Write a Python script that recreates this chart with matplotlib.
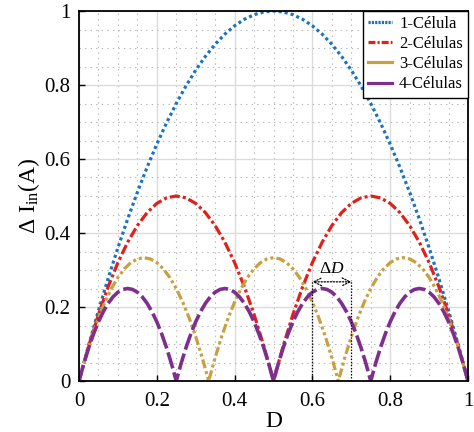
import numpy as np
import matplotlib
matplotlib.use("Agg")
import matplotlib.pyplot as plt
from matplotlib.lines import Line2D
from matplotlib.ticker import MultipleLocator

plt.rcParams['font.family'] = ['Liberation Serif', 'DejaVu Serif']
plt.rcParams['mathtext.fontset'] = 'custom'
plt.rcParams['mathtext.rm'] = 'Liberation Serif'
plt.rcParams['mathtext.it'] = 'Liberation Serif:italic'
plt.rcParams['lines.scale_dashes'] = False

# ---- data ----
labels = ['1-Célula', '2-Células', '3-Células', '4-Células']
xticks = [0, 0.2, 0.4, 0.6, 0.8, 1.0]
xtick_labels = ['0', '0.2', '0.4', '0.6', '0.8', '1']
yticks = [0, 0.2, 0.4, 0.6, 0.8, 1.0]
ytick_labels = ['0', '0.2', '0.4', '0.6', '0.8', '1']

D1 = np.linspace(0, 1, 41)
I1 = [0, .0975, .19, .2775, .36, .4375, .51, .5775, .64, .6975, .75, .7975, .84, .8775,
      .91, .9375, .96, .9775, .99, .9975, 1.0, .9975, .99, .9775, .96, .9375, .91, .8775,
      .84, .7975, .75, .6975, .64, .5775, .51, .4375, .36, .2775, .19, .0975, 0]

D2 = np.linspace(0, 1, 41)
I2 = [0, .095, .18, .255, .32, .375, .42, .455, .48, .495, .5, .495, .48, .455, .42, .375,
      .32, .255, .18, .095, 0,
      .095, .18, .255, .32, .375, .42, .455, .48, .495, .5, .495, .48, .455, .42, .375,
      .32, .255, .18, .095, 0]

D3 = np.linspace(0, 1, 61)
I3 = [0, .0633, .12, .17, .2133, .25, .28, .3033, .32, .33, .3333, .33, .32, .3033, .28,
      .25, .2133, .17, .12, .0633, 0,
      .0633, .12, .17, .2133, .25, .28, .3033, .32, .33, .3333, .33, .32, .3033, .28,
      .25, .2133, .17, .12, .0633, 0,
      .0633, .12, .17, .2133, .25, .28, .3033, .32, .33, .3333, .33, .32, .3033, .28,
      .25, .2133, .17, .12, .0633, 0]

D4 = np.linspace(0, 1, 81)
I4 = [0, .0475, .09, .1275, .16, .1875, .21, .2275, .24, .2475, .25, .2475, .24, .2275,
      .21, .1875, .16, .1275, .09, .0475, 0,
      .0475, .09, .1275, .16, .1875, .21, .2275, .24, .2475, .25, .2475, .24, .2275,
      .21, .1875, .16, .1275, .09, .0475, 0,
      .0475, .09, .1275, .16, .1875, .21, .2275, .24, .2475, .25, .2475, .24, .2275,
      .21, .1875, .16, .1275, .09, .0475, 0,
      .0475, .09, .1275, .16, .1875, .21, .2275, .24, .2475, .25, .2475, .24, .2275,
      .21, .1875, .16, .1275, .09, .0475, 0]

# annotation (delta D between 0.6 and 0.7)
dD_x = [0.6, 0.7]
dD_y = 0.268

# ---- styles ----
c1, c2, c3, c4 = '#1a72c0', '#e0201b', '#c9a040', '#7e2f8e'
lw = 2.3

fig = plt.figure(figsize=(4.74, 4.32), dpi=100)
ax = fig.add_axes([79/474, 1 - 381/432, (468-79)/474, (381-11)/432])

ax.plot(D1, I1, color=c1, lw=lw, dashes=(2.2, 2.2), dash_capstyle='butt')
ax.plot(D2, I2, color=c2, lw=lw, dashes=(7.2, 2.2, 2.2, 2.2), dash_capstyle='butt')
ax.plot(D3, I3, color=c3, lw=lw, dashes=(6.5, 2.2, 2.2, 2.2, 2.2, 2.2), dash_capstyle='butt')
ax.plot(D4, I4, color=c4, lw=lw + 0.3, dashes=(12, 3), dash_capstyle='butt')

# delta D annotation
for xv in dD_x:
    ax.plot([xv, xv], [0, dD_y + 0.005], color='black', lw=0.9, dashes=(1, 1.2))
ax.annotate('', xy=(dD_x[0], dD_y), xytext=(dD_x[1], dD_y),
            arrowprops=dict(arrowstyle='<->', color='black', lw=0.9,
                            linestyle=(0, (1, 1.2)), shrinkA=0, shrinkB=0,
                            mutation_scale=14))
ax.text(np.mean(dD_x), dD_y + 0.012, r'$\Delta D$', ha='center', va='bottom', fontsize=12.5)

ax.set_xlim(0, 1)
ax.set_ylim(0, 1)
ax.set_xticks(xticks)
ax.set_xticklabels(xtick_labels)
ax.set_yticks(yticks)
ax.set_yticklabels(ytick_labels)
ax.xaxis.set_minor_locator(MultipleLocator(0.05))
ax.yaxis.set_minor_locator(MultipleLocator(0.05))
ax.grid(which='major', color='#dcdcdc', lw=1.0, linestyle='-')
ax.grid(which='minor', color='#b8b8b8', lw=0.8, linestyle=(0, (1, 3)))
ax.set_axisbelow(True)
ax.tick_params(which='major', direction='in', length=4, width=1, labelsize=15)
ax.tick_params(axis='x', which='major', pad=8)
ax.tick_params(axis='y', which='major', pad=6)
ax.tick_params(which='minor', length=0)
for s in ax.spines.values():
    s.set_linewidth(1.3)

ax.set_xlabel('D', fontsize=17, labelpad=0)
ax.set_ylabel(r'$\Delta$ I$_{\mathrm{in}}$(A)', fontsize=17, labelpad=2)

handles = [Line2D([], [], color=c1, lw=lw, dashes=(1.6, 0.8)),
           Line2D([], [], color=c2, lw=lw, dashes=(5, 1.5, 1.5, 1.5)),
           Line2D([], [], color=c3, lw=lw),
           Line2D([], [], color=c4, lw=lw)]
leg = ax.legend(handles, labels, loc='upper right', fontsize=12, frameon=True,
                fancybox=False, framealpha=1, edgecolor='black', borderaxespad=0,
                borderpad=0.3, labelspacing=0.25, handlelength=1.4, handletextpad=0.45)
leg.get_frame().set_linewidth(1.0)

fig.savefig('out.png', dpi=100)
